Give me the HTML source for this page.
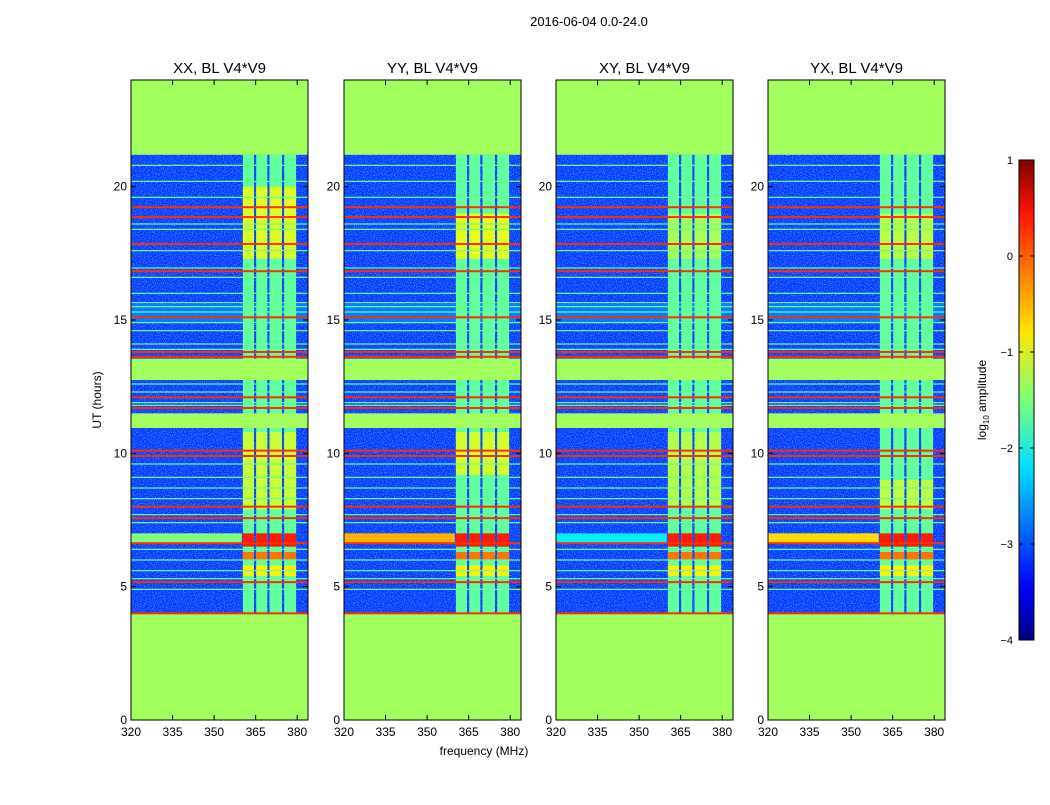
<!DOCTYPE html>
<html><head><meta charset="utf-8">
<style>
body{margin:0;background:#fff;}
svg text{font-family:"Liberation Sans",sans-serif;fill:#000;}
</style></head>
<body>
<svg id="fig" width="1050" height="800" viewBox="0 0 1050 800" xmlns="http://www.w3.org/2000/svg">
<defs>
<filter id="noise" x="0" y="0" width="1" height="1">
<feTurbulence type="fractalNoise" baseFrequency="0.9" numOctaves="1" seed="3" result="n"/>
<feColorMatrix in="n" type="matrix" values="0 0 0 0 0.1  0 0 0 0 0.45  0 0 0 0 1  0 0 0 1.6 -0.75" result="c"/>
<feComposite in="c" in2="SourceGraphic" operator="in" result="cc"/>
<feMerge><feMergeNode in="SourceGraphic"/><feMergeNode in="cc"/></feMerge>
</filter>
<linearGradient id="jet" x1="0" y1="1" x2="0" y2="0">
<stop offset="0" stop-color="#00007f"/><stop offset="0.11" stop-color="#0000ff"/>
<stop offset="0.36" stop-color="#00e0ff"/><stop offset="0.5" stop-color="#7dff7a"/>
<stop offset="0.64" stop-color="#ffe600"/><stop offset="0.89" stop-color="#ff1400"/>
<stop offset="1" stop-color="#7f0000"/></linearGradient>
</defs>
<text x="589" y="26" font-size="13" text-anchor="middle">2016-06-04 0.0-24.0</text>
<g id="panels"></g>
<text x="484" y="755" font-size="12" text-anchor="middle">frequency (MHz)</text>
<text transform="translate(101,400) rotate(-90)" font-size="12" text-anchor="middle">UT (hours)</text>
<g id="cbar"></g>
</svg>
<script>
const panelTitles=["XX, BL V4*V9","YY, BL V4*V9","XY, BL V4*V9","YX, BL V4*V9"];
const panelLeft=[131,344,556,768];
const xTicks=[320,335,350,365,380];
const yTicks=[0,5,10,15,20];
const cbTicks=[1,0,-1,-2,-3,-4];
// flagged time ranges (hours)
const flagged=[[0,4],[10.95,11.5],[12.75,13.55],[21.2,24]];
// red (high) lines, hours
const redLines=[19.23,18.86,17.85,16.83,15.1,13.8,13.62,12.1,11.7,10.1,9.9,8.0,7.57,6.63,5.17,4.0];
// light (pale) lines, hours
const lightLines=[20.8,20.2,19.6,18.6,18.4,17.6,16.95,16.6,16.0,15.65,15.5,15.3,14.9,14.6,14.1,13.9,12.6,12.3,11.9,11.8,9.6,9.1,8.7,8.3,7.7,7.4,6.4,6.0,5.6,5.3,4.9];
// sub-band frequency ranges (MHz)
const subbands=[[360.4,364.4],[365.2,369.2],[370.0,374.5],[375.3,379.6]];
// per panel band hot segments [t0,t1,log amplitude]
const bandHot=[
 [[17.3,20,-1.05],[7.9,10.8,-1.15],[6.5,7.0,0.25],[6.0,6.3,-0.2],[5.4,5.8,-0.8]],
 [[17.3,19,-1.0],[9.2,10.8,-1.1],[6.5,7.0,0.25],[6.0,6.3,-0.2],[5.4,5.8,-0.8]],
 [[17.3,19,-1.3],[8.0,10.8,-1.25],[6.5,7.0,0.25],[6.0,6.3,-0.2],[5.4,5.8,-0.8]],
 [[17.3,19,-1.2],[7.9,9.0,-1.2],[6.5,7.0,0.25],[6.0,6.3,-0.2],[5.4,5.8,-0.8]]];
// broad horizontal band at ~6.8h level per panel
const wideBand=[-1.5,-0.5,-2.2,-0.7];
const bgLevel=-3.1, bandLevel=-1.65, flagLevel=-1.33, redLevel=0.15, lightLevel=-1.6;

const ns="http://www.w3.org/2000/svg";
const W=177,top0=80,bot0=720;
function X(f,l){return l+(f-320)*2.77;}
function Y(h){return bot0-h*(bot0-top0)/24;}
function jet(v){const t=(v+4)/5;const c=x=>Math.round(255*Math.max(0,Math.min(1,1.5-Math.abs(x))));return `rgb(${c(4*t-3)},${c(4*t-2)},${c(4*t-1)})`;}
function el(tag,a,p){const e=document.createElementNS(ns,tag);for(const k in a)e.setAttribute(k,a[k]);p.appendChild(e);return e;}
const G=document.getElementById('panels');
panelLeft.forEach((l,pi)=>{
 const g=el('g',{},G);
 
 
 const cp=el('clipPath',{id:'cp'+pi},g);el('rect',{x:l,y:top0,width:W,height:bot0-top0},cp);
 const d=el('g',{'clip-path':`url(#cp${pi})`},g);
 const bg=el('rect',{x:l,y:Y(21.2),width:W,height:Y(4)-Y(21.2),fill:jet(bgLevel),filter:'url(#noise)'},d);
 
 
 el('rect',{x:l,y:Y(15.6),width:W,height:Y(14.9)-Y(15.6),fill:jet(-2.6),opacity:0.6},d);
 el('rect',{x:l,y:Y(7.0),width:X(360,l)-l,height:Y(6.6)-Y(7.0),fill:jet(wideBand[pi])},d);
 subbands.forEach(sb=>{
  const r=el('rect',{x:X(sb[0],l),y:Y(21.2),width:X(sb[1],l)-X(sb[0],l),height:Y(4)-Y(21.2),fill:jet(bandLevel)},d);
  
  
  bandHot[pi].forEach(h=>{
   el('rect',{x:X(sb[0],l),y:Y(h[1]),width:X(sb[1],l)-X(sb[0],l),height:Y(h[0])-Y(h[1]),fill:jet(h[2])},d);
  });
 });
 lightLines.forEach(h=>{const r=el('rect',{x:l,y:Y(h)-0.6,width:W,height:1.2,fill:jet(lightLevel)},d);
  });
 flagged.forEach(f=>{const r=el('rect',{x:l,y:Y(f[1]),width:W,height:Y(f[0])-Y(f[1]),fill:jet(flagLevel)},d);
  });
 redLines.forEach(h=>{const r=el('rect',{x:l,y:Y(h)-1,width:W,height:2,fill:jet(redLevel)},d);
  });
 el('rect',{x:l,y:top0,width:W,height:bot0-top0,fill:'none',stroke:'#000','stroke-width':1},g);
 const t=el('text',{x:l+W/2,y:73,'font-size':15,'text-anchor':'middle'},g);t.textContent=panelTitles[pi];
 
 xTicks.forEach(v=>{const x=X(v,l);el('line',{x1:x,x2:x,y1:bot0,y2:bot0-5,stroke:'#000'},g);el('line',{x1:x,x2:x,y1:top0,y2:top0+5,stroke:'#000'},g);
  const tt=el('text',{x:x,y:bot0+16,'font-size':12,'text-anchor':'middle'},g);tt.textContent=v;
  });
 yTicks.forEach(v=>{const y=Y(v);el('line',{x1:l,x2:l+5,y1:y,y2:y,stroke:'#000'},g);el('line',{x1:l+W,x2:l+W-5,y1:y,y2:y,stroke:'#000'},g);
  const tt=el('text',{x:l-4,y:y+4,'font-size':12,'text-anchor':'end'},g);tt.textContent=v;
  });
});
const C=document.getElementById('cbar');
el('rect',{x:1019,y:160,width:15,height:480,fill:'url(#jet)',stroke:'#000','stroke-width':1},C);
cbTicks.forEach(v=>{const y=160+(1-v)*96;el('line',{x1:1019,x2:1023,y1:y,y2:y,stroke:'#000'},C);el('line',{x1:1030,x2:1034,y1:y,y2:y,stroke:'#000'},C);
 const t=el('text',{x:1013,y:y+4,'font-size':11,'text-anchor':'end'},C);t.textContent=(v<0?'\u2212'+(-v):v);
 });
const lab=el('text',{transform:'translate(986,400) rotate(-90)','font-size':12,'text-anchor':'middle'},C);
lab.innerHTML='log<tspan font-size="8" dy="3">10</tspan><tspan dy="-3"> amplitude</tspan>';

</script>
</body></html>
